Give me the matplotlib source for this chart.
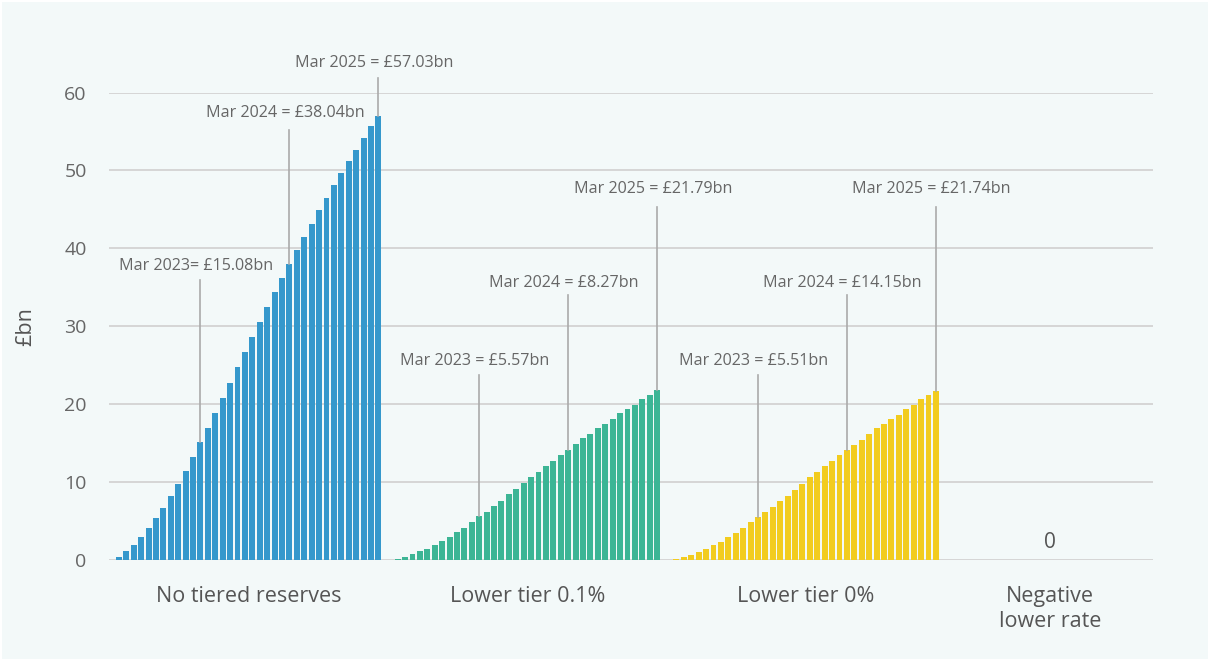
import numpy as np
import matplotlib
matplotlib.use("Agg")
from matplotlib import pyplot as plt
from matplotlib.patches import Rectangle

# cumulative monthly values, Apr 2022 .. Mar 2025 (£bn)
no_tier = [0.43, 1.2, 1.97, 3.0, 4.1, 5.4, 6.7, 8.2, 9.76, 11.4, 13.2, 15.08,
           16.9, 18.9, 20.8, 22.7, 24.8, 26.7, 28.6, 30.6, 32.5, 34.4, 36.2, 38.04,
           39.8, 41.5, 43.1, 44.9, 46.5, 48.1, 49.7, 51.2, 52.6, 54.2, 55.7, 57.03]
tier_01 = [0.17, 0.43, 0.81, 1.2, 1.45, 1.97, 2.48, 3.0, 3.64, 4.15, 4.92, 5.57,
           6.2, 6.97, 7.6, 8.4, 9.16, 9.93, 10.7, 11.3, 12.1, 12.75, 13.5, 14.16,
           14.9, 15.6, 16.2, 16.9, 17.5, 18.1, 18.8, 19.4, 19.9, 20.6, 21.2, 21.79]
tier_0 = [0.17, 0.43, 0.68, 1.07, 1.45, 1.97, 2.35, 3.0, 3.5, 4.15, 4.8, 5.51,
          6.2, 6.85, 7.6, 8.25, 9.0, 9.8, 10.6, 11.3, 12.0, 12.75, 13.5, 14.15,
          14.8, 15.45, 16.2, 16.9, 17.4, 18.1, 18.65, 19.4, 19.9, 20.6, 21.2, 21.74]
negative = [0.0]

categories = ["No tiered reserves", "Lower tier 0.1%", "Lower tier 0%", "Negative\nlower rate"]
colors = ["#3598cc", "#3cb595", "#f2cc1f"]

# annotations: (group, bar index, text)
notes = [
    (0, 11, "Mar 2023= £15.08bn"),
    (0, 23, "Mar 2024 = £38.04bn"),
    (0, 35, "Mar 2025 = £57.03bn"),
    (1, 11, "Mar 2023 = £5.57bn"),
    (1, 23, "Mar 2024 = £8.27bn"),
    (1, 35, "Mar 2025 = £21.79bn"),
    (2, 11, "Mar 2023 = £5.51bn"),
    (2, 23, "Mar 2024 = £14.15bn"),
    (2, 35, "Mar 2025 = £21.74bn"),
]
note_text_y = [37.7, 57.4, 63.8, 25.5, 35.6, 47.6, 25.5, 35.6, 47.6]
note_line_top = [35.9, 55.2, 61.9, 23.7, 34.0, 45.3, 23.7, 34.0, 45.3]

plt.rcParams['font.family'] = ['Open Sans', 'DejaVu Sans']

fig = plt.figure(figsize=(12.1, 6.61), dpi=100, facecolor="white")
fig.patches.append(Rectangle((2 / 1210, 2 / 661), 1 - 4 / 1210, 1 - 4 / 661,
                             transform=fig.transFigure, facecolor="#f3f9f9",
                             edgecolor="none", zorder=-10))
ax = fig.add_axes([0.090, 0.153, 0.863, 0.707])
ax.set_facecolor("none")

gap = 37.6
series = [no_tier, tier_01, tier_0]
for g, vals in enumerate(series):
    x = g * gap + np.arange(len(vals))
    ax.bar(x, vals, width=0.8, color=colors[g], zorder=2)

centers = [17.5, 17.5 + gap, 17.5 + 2 * gap, 125.6]

# negative rate group: nothing to draw, just the value
ax.text(centers[3], negative[0] + 0.9, "0", ha="center", va="bottom",
        fontsize=15, color="#555555")

for (g, i, txt), ty, lt in zip(notes, note_text_y, note_line_top):
    xb = g * gap + i
    top = series[g][i]
    ax.plot([xb, xb], [top, lt], color="#aaaaaa", lw=1.2, zorder=3, clip_on=False)
    ax.text(xb - 0.6, ty, txt, ha="center", va="center", fontsize=11.6,
            color="#666666")

for c, lab in zip(centers, categories):
    ax.text(c, -3.3, lab, ha="center", va="top", fontsize=15.5, color="#555555",
            linespacing=1.3)

ax.set_xlim(-1.35, 139.5)
ax.set_ylim(0, 60)
ax.set_yticks(range(0, 61, 10))
ax.set_xticks([])
ax.grid(axis="y", color="#d3d3d3", lw=1.3, zorder=0)
ax.tick_params(axis="y", length=0, pad=16, labelsize=14, labelcolor="#666666")
for s in ax.spines.values():
    s.set_visible(False)
ax.set_ylabel("£bn", fontsize=15.5, color="#555555", labelpad=20)

fig.savefig("out.png", dpi=100, facecolor=fig.get_facecolor())
